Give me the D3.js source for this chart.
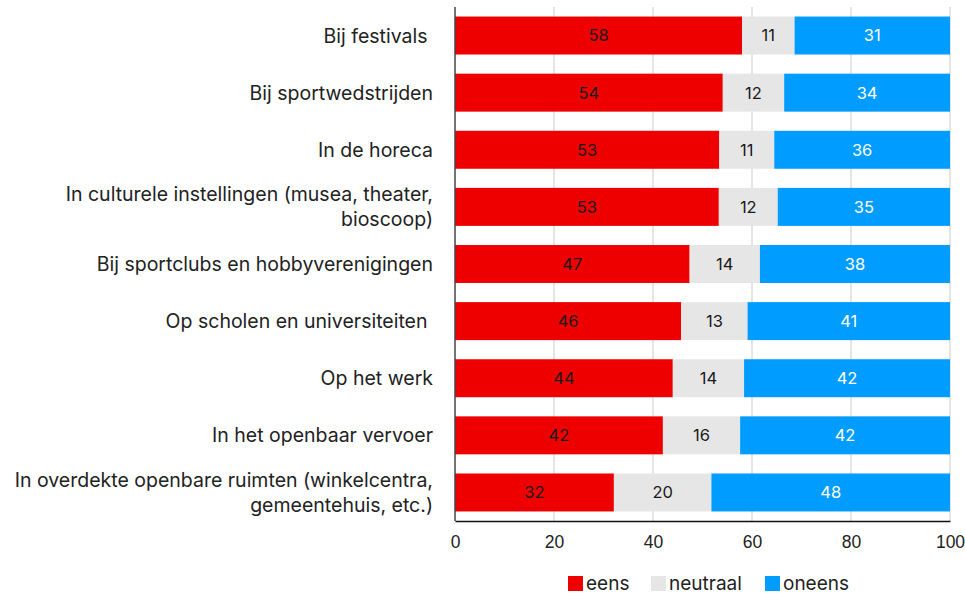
<!DOCTYPE html>
<html lang="nl">
<head>
  <meta charset="utf-8">
  <title>Stacked bars</title>
  <script src="https://cdnjs.cloudflare.com/ajax/libs/d3/7.8.5/d3.min.js"></script>
  <style>
    body { margin: 0; background: #fff; }
    svg { font-family: "Inter", "Noto Sans", sans-serif; }
    .cat { fill: #222; font-size: 19.5px; white-space: pre; }
    .tick text { font-size: 17.5px; fill: #222; }
    .grid line { stroke: #dcdcdc; stroke-width: 1.5; }
    .val { font-size: 16.5px; }
    .leg { font-size: 19px; fill: #222; }
  </style>
</head>
<body>
<svg id="chart" width="965" height="594"></svg>
<script>
  // categories (top to bottom), multi-line labels split by "\n"
  var categories = [
    "Bij festivals ",
    "Bij sportwedstrijden",
    "In de horeca",
    "In culturele instellingen (musea, theater,\nbioscoop)",
    "Bij sportclubs en hobbyverenigingen",
    "Op scholen en universiteiten ",
    "Op het werk",
    "In het openbaar vervoer",
    "In overdekte openbare ruimten (winkelcentra,\ngemeentehuis, etc.)"
  ];
  var eens     = [58.0, 54.1, 53.4, 53.3, 47.4, 45.7, 44.0, 42.0, 32.1];
  var neutraal = [10.6, 12.4, 11.1, 11.9, 14.2, 13.4, 14.4, 15.6, 19.7];
  var oneens   = [31.4, 33.5, 35.5, 34.8, 38.4, 40.9, 41.6, 42.4, 48.2];
  var seriesNames = ["eens", "neutraal", "oneens"];
  var colors = ["#ee0000", "#e6e6e6", "#009cff"];
  var textColors = ["#1a1a1a", "#1a1a1a", "#ffffff"];
  var xTicks = [0, 20, 40, 60, 80, 100];

  var rows = categories.map(function (c, i) {
    return { cat: c, eens: eens[i], neutraal: neutraal[i], oneens: oneens[i] };
  });

  var margin = { top: 7, left: 455, right: 15, bottom: 73 };
  var width = 965 - margin.left - margin.right;
  var height = 594 - margin.top - margin.bottom;

  var svg = d3.select("#chart");
  var g = svg.append("g").attr("transform", "translate(" + margin.left + "," + margin.top + ")");

  var x = d3.scaleLinear().domain([0, 100]).range([0, width]);
  var y = d3.scaleBand().domain(categories).range([0, height]).paddingInner(0.335).paddingOuter(0.167);

  // gridlines
  g.append("g").attr("class", "grid")
    .selectAll("line").data(xTicks.slice(1)).join("line")
    .attr("x1", d => x(d)).attr("x2", d => x(d))
    .attr("y1", 0).attr("y2", height);

  var stack = d3.stack().keys(seriesNames)(rows);

  stack.forEach(function (layer, si) {
    var lg = g.append("g");
    lg.selectAll("rect").data(layer).join("rect")
      .attr("x", d => x(d[0]))
      .attr("width", d => x(d[1]) - x(d[0]))
      .attr("y", d => y(d.data.cat))
      .attr("height", y.bandwidth())
      .attr("fill", colors[si]);
    lg.selectAll("text").data(layer).join("text")
      .attr("class", "val")
      .attr("x", d => (x(d[0]) + x(d[1])) / 2)
      .attr("y", d => y(d.data.cat) + y.bandwidth() / 2)
      .attr("dy", "0.36em")
      .attr("text-anchor", "middle")
      .attr("fill", textColors[si])
      .text(d => Math.round(d[1] - d[0]));
  });

  // axes lines
  g.append("line").attr("x1", 0).attr("x2", 0).attr("y1", 0).attr("y2", height)
    .attr("stroke", "#444").attr("stroke-width", 1.5);
  var xAxis = g.append("g").attr("transform", "translate(0," + height + ")")
    .call(d3.axisBottom(x).tickValues(xTicks).tickSize(0).tickPadding(15));
  xAxis.select(".domain").attr("stroke", "#111").attr("stroke-width", 1.5);
  xAxis.selectAll("text").attr("font-family", null);

  // category labels
  var labels = g.append("g").selectAll("text").data(categories).join("text")
    .attr("class", "cat")
    .attr("text-anchor", "end")
    .attr("x", -22)
    .attr("y", d => y(d) + y.bandwidth() / 2);
  labels.each(function (d) {
    var lines = d.split("\n");
    var t = d3.select(this);
    var lh = 25;
    var start = -(lines.length - 1) * lh / 2;
    lines.forEach(function (ln, k) {
      t.append("tspan").attr("x", -22)
        .attr("dy", k === 0 ? (start + 7) : lh)
        .text(ln);
    });
  });

  // legend
  var legX = [568, 651, 765];
  var leg = svg.append("g");
  seriesNames.forEach(function (s, i) {
    leg.append("rect").attr("x", legX[i]).attr("y", 576).attr("width", 15).attr("height", 15).attr("fill", colors[i]);
    leg.append("text").attr("class", "leg").attr("x", legX[i] + 18).attr("y", 590).text(s);
  });
</script>
</body>
</html>
